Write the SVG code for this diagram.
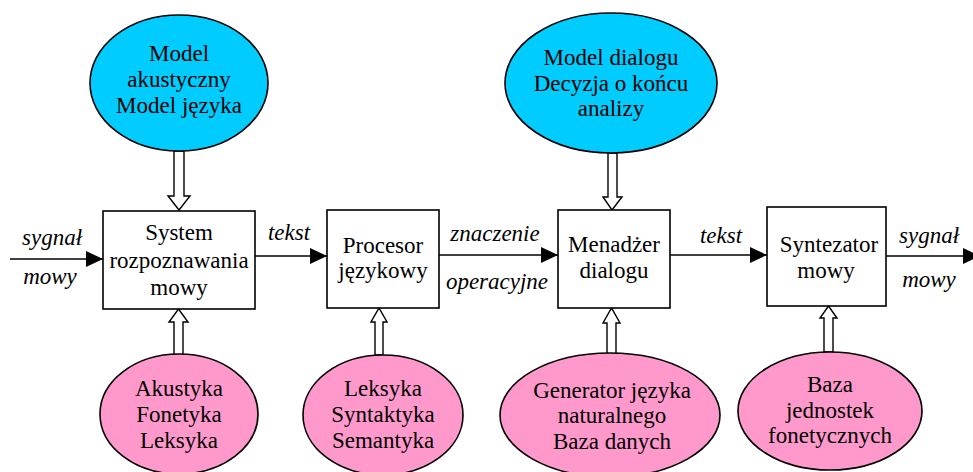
<svg xmlns="http://www.w3.org/2000/svg" width="973" height="472" viewBox="0 0 973 472">
  <style>
    .box { fill: #ffffff; stroke: #000000; stroke-width: 1.6; }
    .kb { fill: #00ccff; stroke: #000000; stroke-width: 1.6; }
    .src { fill: #ff99cc; stroke: #000000; stroke-width: 1.6; }
    .feed { fill: #ffffff; stroke: #000000; stroke-width: 1.4; stroke-linejoin: miter; }
    .flow { fill: none; stroke: #000000; stroke-width: 1.6; marker-end: url(#tip); }
    text { font-family: "Liberation Serif", "Times New Roman", serif; font-size: 23px; fill: #000000; text-anchor: middle; }
    .lbl { font-style: italic; }
  </style>
  <defs>
    <marker id="tip" viewBox="0 0 17 16" refX="17" refY="8" markerWidth="17" markerHeight="16" markerUnits="userSpaceOnUse" orient="auto">
      <path d="M0,0 L17,8 L0,16 Z" fill="#000000"/>
    </marker>
  </defs>

  <g id="connectors">
    <!-- main signal path -->
    <line class="flow" x1="10" y1="259" x2="103" y2="259"/>
    <line class="flow" x1="255" y1="256" x2="327" y2="256"/>
    <line class="flow" x1="439" y1="255" x2="558" y2="255"/>
    <line class="flow" x1="670" y1="255" x2="767" y2="255"/>
    <line class="flow" x1="886" y1="256" x2="980" y2="256"/>
    <!-- hollow knowledge arrows, downward -->
    <path class="feed" d="M174,151 L184,151 L184,196 L190,196 L179,210 L168,196 L174,196 Z"/>
    <path class="feed" d="M608,153 L617,153 L617,197 L622,197 L612,210 L603,197 L608,197 Z"/>
    <!-- hollow knowledge arrows, upward -->
    <path class="feed" d="M174,355 L183,355 L183,322 L188,322 L178.5,309 L169,322 L174,322 Z"/>
    <path class="feed" d="M375,355 L383,355 L383,322 L387,322 L379,308 L371,322 L375,322 Z"/>
    <path class="feed" d="M607,355 L616,355 L616,323 L620,323 L611.5,308 L603,323 L607,323 Z"/>
    <path class="feed" d="M824,352 L833,352 L833,318 L837,318 L828.5,306 L820,318 L824,318 Z"/>
    <!-- flow labels -->
    <text class="lbl" x="52" y="245">sygnał</text>
    <text class="lbl" x="50" y="284">mowy</text>
    <text class="lbl" x="289" y="240">tekst</text>
    <text class="lbl" x="495" y="241">znaczenie</text>
    <text class="lbl" x="497" y="289">operacyjne</text>
    <text class="lbl" x="721" y="243">tekst</text>
    <text class="lbl" x="929" y="243">sygnał</text>
    <text class="lbl" x="929" y="287">mowy</text>
  </g>

  <g id="asr">
    <rect class="box" x="103" y="211" width="152" height="98"/>
    <text x="179" y="240">System</text>
    <text x="179" y="268">rozpoznawania</text>
    <text x="179" y="295">mowy</text>
  </g>

  <g id="nlp">
    <rect class="box" x="327" y="210" width="112" height="98"/>
    <text x="383" y="253">Procesor</text>
    <text x="383" y="278">językowy</text>
  </g>

  <g id="dm">
    <rect class="box" x="558" y="210" width="112" height="98"/>
    <text x="614" y="252">Menadżer</text>
    <text x="614" y="278">dialogu</text>
  </g>

  <g id="tts">
    <rect class="box" x="767" y="207" width="119" height="99"/>
    <text x="829" y="252">Syntezator</text>
    <text x="826" y="278">mowy</text>
  </g>

  <g id="asr-models">
    <ellipse class="kb" cx="179" cy="83" rx="89" ry="68"/>
    <text x="179" y="61">Model</text>
    <text x="179" y="87">akustyczny</text>
    <text x="179" y="113">Model języka</text>
  </g>

  <g id="dm-models">
    <ellipse class="kb" cx="611" cy="83" rx="106" ry="70"/>
    <text x="611" y="65">Model dialogu</text>
    <text x="611" y="91">Decyzja o końcu</text>
    <text x="611" y="116">analizy</text>
  </g>

  <g id="asr-sources">
    <ellipse class="src" cx="179" cy="414" rx="79" ry="60"/>
    <text x="179" y="396">Akustyka</text>
    <text x="179" y="422">Fonetyka</text>
    <text x="179" y="448">Leksyka</text>
  </g>

  <g id="nlp-sources">
    <ellipse class="src" cx="383" cy="415" rx="80" ry="60"/>
    <text x="383" y="396">Leksyka</text>
    <text x="383" y="422">Syntaktyka</text>
    <text x="383" y="448">Semantyka</text>
  </g>

  <g id="dm-sources">
    <ellipse class="src" cx="610" cy="415" rx="110" ry="62"/>
    <text x="612" y="398">Generator języka</text>
    <text x="612" y="423">naturalnego</text>
    <text x="612" y="449">Baza danych</text>
  </g>

  <g id="tts-sources">
    <ellipse class="src" cx="830" cy="411" rx="92" ry="59"/>
    <text x="830" y="392">Baza</text>
    <text x="830" y="418">jednostek</text>
    <text x="830" y="443">fonetycznych</text>
  </g>
</svg>
